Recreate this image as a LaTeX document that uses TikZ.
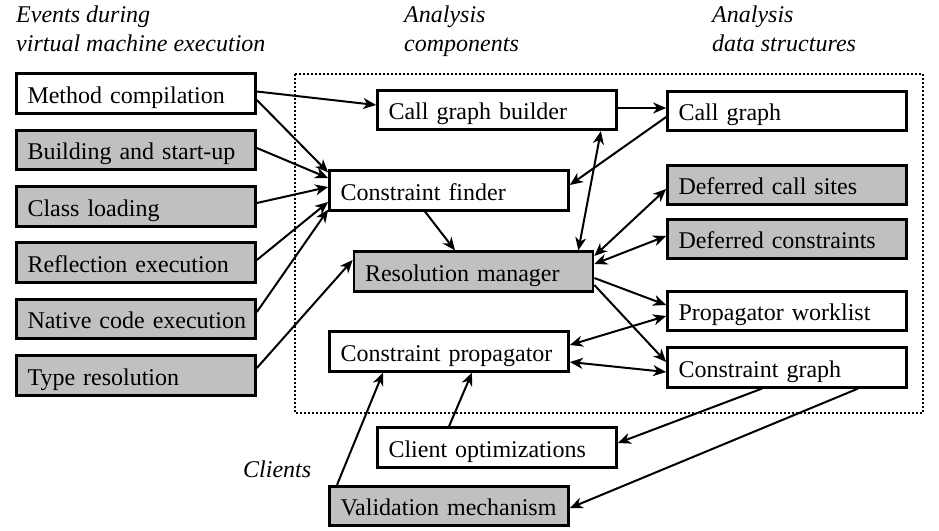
\documentclass[tikz,border=0pt]{standalone}
\usepackage{fontspec}
\setmainfont{Liberation Serif}
\usetikzlibrary{arrows.meta}
\definecolor{boxgray}{RGB}{192,192,192}
\tikzset{
  block/.style={draw=black, line width=2.7pt, fill=white, inner xsep=11pt, inner ysep=0pt,
    text width=217pt, align=left, minimum height=39.5pt, text height=19pt, text depth=0pt,
    font=\fontsize{24}{28}\selectfont},
  shaded/.style={block, fill=boxgray},
  heading/.style={anchor=base west, inner sep=0pt, font=\fontsize{24}{28}\selectfont\itshape},
  tip/.style={Stealth[length=13pt, width=11pt, inset=4pt]},
  link/.style={line width=2pt, -{Stealth[length=13pt, width=11pt, inset=4pt]}},
  duplex/.style={line width=2pt, {Stealth[length=13pt, width=11pt, inset=4pt]}-{Stealth[length=13pt, width=11pt, inset=4pt]}},
  frame/.style={line width=1.6pt, dash pattern=on 1.6pt off 2.4pt}
}
\begin{document}
\begin{tikzpicture}[x=1pt, y=-1pt]
\useasboundingbox (0,0) rectangle (939,530);

% column headings
\node[heading] (h1a) at (16,23) {Events during};
\node[heading] (h1b) at (16,51) {virtual machine execution};
\node[heading] (h2a) at (404,23) {Analysis};
\node[heading] (h2b) at (404,51) {components};
\node[heading] (h3a) at (712,23) {Analysis};
\node[heading] (h3b) at (712,51) {data structures};
\node[heading] (cl) at (243,477) {Clients};

% boundary of the analysis
\draw[frame] (295,74) rectangle (923,413);

% virtual machine events
\node[block]  (mc) at (136,93.5)  {\mbox{Method compilation}};
\node[shaded] (bs) at (136,150)   {\mbox{Building and start-up}};
\node[shaded] (ld) at (136,206.5) {\mbox{Class loading}};
\node[shaded] (re) at (136,262.5) {\mbox{Reflection execution}};
\node[shaded] (nc) at (136,319)   {\mbox{Native code execution}};
\node[shaded] (tr) at (136,375.5) {\mbox{Type resolution}};

% analysis components
\node[block]  (cgb) at (497,110)   {\mbox{Call graph builder}};
\node[block]  (cf)  at (449,190.5) {\mbox{Constraint finder}};
\node[shaded] (rm)  at (473.5,271.5) {\mbox{Resolution manager}};
\node[block]  (cp)  at (449,351.5) {\mbox{Constraint propagator}};

% analysis data structures
\node[block]  (cg)  at (787,111)   {\mbox{Call graph}};
\node[shaded] (dcs) at (787,185)   {\mbox{Deferred call sites}};
\node[shaded] (dc)  at (787,239)   {\mbox{Deferred constraints}};
\node[block]  (pw)  at (787,311)   {\mbox{Propagator worklist}};
\node[block]  (cgr) at (787,367.5) {\mbox{Constraint graph}};

% clients
\node[block]  (co) at (497,447.5) {\mbox{Client optimizations}};
\node[shaded] (vm) at (449,506)   {\mbox{Validation mechanism}};

% events feeding the analysis
\draw[link] ([yshift=2pt]mc.east) -- ([yshift=5pt]cgb.west);
\draw[link] ([yshift=-6.5pt]mc.east) -- ([yshift=-3pt]cf.north west);
\draw[link] ([yshift=2pt]bs.east) -- ([yshift=12.5pt]cf.west);
\draw[link] ([yshift=3.5pt]ld.east) -- ([yshift=3.5pt]cf.west);
\draw[link] ([yshift=2.5pt]re.east) -- ([yshift=-11.5pt]cf.west);
\draw[link] ([yshift=7pt]nc.east) -- ([yshift=2pt]cf.south west);
\draw[link] ([yshift=7.5pt]tr.east) -- ([yshift=11.5pt]rm.west);

% inside the analysis
\draw[link] ([yshift=2pt]cgb.east) -- ([yshift=2pt]cgb.east -| cg.west);
\draw[link] ([yshift=-6pt]cg.west) -- ([yshift=5.5pt]cf.east);
\draw[duplex] ([xshift=-17pt]cgb.south east) -- ([xshift=-16pt]rm.north east);
\draw[link] ([xshift=-24pt]cf.south) -- ([xshift=-18.5pt]rm.north);
\draw[duplex] ([yshift=15.5pt]rm.east) -- ([yshift=-4pt]dcs.west);
\draw[duplex] ([yshift=7.5pt]rm.east) -- ([yshift=3pt]dc.west);
\draw[link] ([yshift=-6.5pt]rm.east) -- ([yshift=6pt]pw.west);
\draw[link] ([yshift=-13.5pt]rm.east) -- ([yshift=5.5pt]cgr.west);
\draw[duplex] ([yshift=6.5pt]cp.east) -- ([yshift=-5pt]pw.west);
\draw[duplex] ([yshift=-10.5pt]cp.east) -- ([yshift=-4.5pt]cgr.west);

% clients
\draw[link] ([xshift=-25pt]cgr.south) -- ([yshift=4.5pt]co.east);
\draw[link] ([xshift=71pt]cgr.south) -- ([yshift=-2pt]vm.east);
\draw[link] ([xshift=-48pt]co.north) -- ([xshift=23pt]cp.south);
\draw[link] ([xshift=-112pt]vm.north) -- ([xshift=-66pt]cp.south);
\end{tikzpicture}
\end{document}
